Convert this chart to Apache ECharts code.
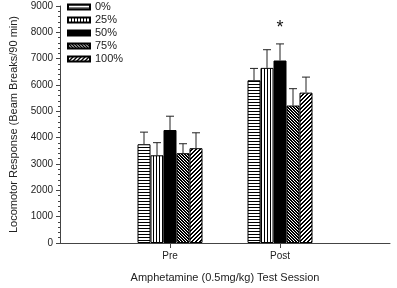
<!DOCTYPE html>
<html>
<head>
<meta charset="utf-8">
<script src="https://cdn.jsdelivr.net/npm/echarts@6/dist/echarts.min.js"></script>
<style>
  html, body { margin: 0; padding: 0; background: #fff; }
  #chart { width: 397px; height: 288px; }
</style>
</head>
<body>
<div id="chart"></div>
<script>
// session categories (padded with empty slots so Pre/Post sit at 1/3 and 2/3)
const sessions = ['Pre', 'Post']
const doses = ['0%', '25%', '50%', '75%', '100%']

// mean beam breaks per dose, [Pre, Post]
const mean0 = [3750, 6180]
const mean25 = [3330, 6650]
const mean50 = [4290, 6930]
const mean75 = [3410, 5220]
const mean100 = [3600, 5710]

// error (upper) per dose, [Pre, Post]
const err0 = [460, 450]
const err25 = [480, 690]
const err50 = [525, 630]
const err75 = [360, 640]
const err100 = [585, 590]

const yTicks = [0, 1000, 2000, 3000, 4000, 5000, 6000, 7000, 8000, 9000]

const means = [mean0, mean25, mean50, mean75, mean100]
const errs = [err0, err25, err50, err75, err100]
const xCats = [''].concat(sessions, [''])

const BAR_W = 13

// little pixel patterns for the bar fills
function makePattern(n, test) {
  const c = document.createElement('canvas')
  c.width = n; c.height = n
  const ctx = c.getContext('2d')
  const img = ctx.createImageData(n, n)
  for (let y = 0; y < n; y++) {
    for (let x = 0; x < n; x++) {
      const k = (y * n + x) * 4
      const v = test(x, y) ? 0 : 255
      img.data[k] = v; img.data[k + 1] = v; img.data[k + 2] = v; img.data[k + 3] = 255
    }
  }
  ctx.putImageData(img, 0, 0)
  return { image: c, repeat: 'repeat' }
}

const fills = [
  makePattern(3, (x, y) => y === 0),                       // horizontal
  makePattern(3, (x, y) => x === 0),                       // vertical
  '#000',                                                  // solid
  makePattern(3, (x, y) => (x - y + 3) % 3 !== 2),         // dense back-diagonal
  makePattern(4, (x, y) => (x + y) % 4 === 0 || (x + y) % 4 === 1) // forward diagonal
]

const chart = echarts.init(document.getElementById('chart'))

const barSeries = doses.map(function (d, i) {
  const s = {
    name: d,
    type: 'bar',
    barWidth: BAR_W,
    barGap: '0%',
    data: [null].concat(means[i], [null]),
    itemStyle: { color: fills[i], borderColor: '#000', borderWidth: 1 }
  }
  if (i === 2) {
    s.markPoint = {
      symbol: 'circle',
      symbolSize: 0,
      data: [{ coord: ['Post', 8150] }],
      label: { show: true, formatter: '*', fontSize: 18, color: '#111', fontFamily: 'Liberation Sans' }
    }
  }
  return s
})

const errData = []
doses.forEach(function (d, i) {
  sessions.forEach(function (s, j) {
    errData.push([j + 1, means[i][j], errs[i][j], i])
  })
})

const errSeries = {
  name: 'err',
  type: 'custom',
  z: 5,
  data: errData,
  encode: { x: 0, y: 1 },
  renderItem: function (params, api) {
    const off = (api.value(3) - 2) * BAR_W
    const p0 = api.coord([api.value(0), api.value(1)])
    const p1 = api.coord([api.value(0), api.value(1) + api.value(2)])
    const x = p0[0] + off
    const st = { stroke: '#222', lineWidth: 1 }
    return {
      type: 'group',
      children: [
        { type: 'line', shape: { x1: x, y1: p0[1], x2: x, y2: p1[1] }, style: st },
        { type: 'line', shape: { x1: x - 4, y1: p1[1], x2: x + 4, y2: p1[1] }, style: st }
      ]
    }
  }
}

chart.setOption({
  animation: false,
  textStyle: { fontFamily: 'Liberation Sans' },
  grid: { left: 54, right: 7, top: 6, bottom: 44 },
  legend: {
    orient: 'vertical',
    left: 67,
    top: 1,
    padding: 0,
    data: doses,
    icon: 'rect',
    itemWidth: 22,
    itemHeight: 5,
    itemGap: 1,
    textStyle: { fontSize: 11, color: '#222', lineHeight: 12 }
  },
  xAxis: {
    type: 'category',
    data: xCats,
    boundaryGap: false,
    name: 'Amphetamine (0.5mg/kg) Test Session',
    nameLocation: 'middle',
    nameGap: 29,
    nameTextStyle: { fontSize: 11, color: '#222' },
    axisLine: { lineStyle: { color: '#444', width: 1 } },
    axisTick: { length: 5, interval: function (i) { return i === 1 || i === 2 }, lineStyle: { color: '#444' } },
    axisLabel: { fontSize: 10, color: '#222', margin: 8, interval: 0 }
  },
  yAxis: {
    type: 'value',
    min: 0,
    max: 9000,
    interval: 1000,
    name: 'Locomotor Response (Beam Breaks/90 min)',
    nameLocation: 'middle',
    nameGap: 41,
    nameTextStyle: { fontSize: 11, color: '#222' },
    axisLine: { show: true, lineStyle: { color: '#444', width: 1 } },
    axisTick: { show: true, length: 4, lineStyle: { color: '#444' } },
    minorTick: { show: true, splitNumber: 5, length: 2, lineStyle: { color: '#444' } },
    splitLine: { show: false },
    axisLabel: {
      fontSize: 10, color: '#222', margin: 7,
      formatter: function (v) { return yTicks.indexOf(v) >= 0 ? String(v) : '' }
    }
  },
  series: barSeries.concat([errSeries])
})
</script>
</body>
</html>
